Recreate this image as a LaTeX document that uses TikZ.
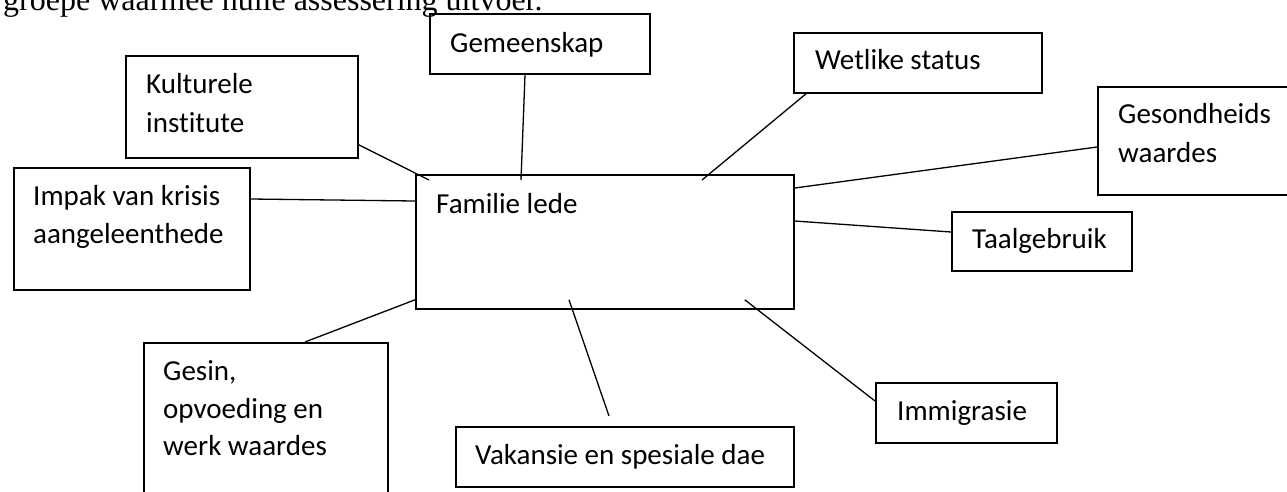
\documentclass[tikz,border=0pt]{standalone}
\usepackage{fontspec}
\setmainfont{Carlito}[Ligatures=NoCommon]
\newfontfamily\tnr{Liberation Serif}
\usetikzlibrary{calc}
\tikzset{
  box/.style={draw=black, line width=1.8pt, rectangle, inner sep=0pt, anchor=north west},
  lbl/.style={inner sep=0pt, anchor=base west, font=\fontsize{29}{38}\selectfont},
  conn/.style={draw=black, line width=1.3pt}
}
\begin{document}
\begin{tikzpicture}[x=1pt, y=-1pt]
\useasboundingbox (0,0) rectangle (1287,491);
\clip (0,0) rectangle (1287,491);
\fill[white] (0,0) rectangle (1287,491);
% cut-off line of text at top
\node[inner sep=0pt, anchor=base west, font=\tnr\fontsize{32}{38}\selectfont] (top) at (3,10) {groepe waarmee hulle assessering uitvoer.};
% boxes
\node[box, minimum width=378pt, minimum height=134pt] (fam) at (415,174) {};
\node[box, minimum width=220pt, minimum height=60pt] (gem) at (429,13) {};
\node[box, minimum width=232pt, minimum height=102pt] (kul) at (125,55) {};
\node[box, minimum width=236pt, minimum height=122pt] (imp) at (13,167) {};
\node[box, minimum width=248pt, minimum height=60pt] (wet) at (793,32) {};
\node[box, minimum width=210pt, minimum height=108pt] (ges) at (1097,86) {};
\node[box, minimum width=180pt, minimum height=59pt] (taal) at (951,211) {};
\node[box, minimum width=181pt, minimum height=60pt] (imm) at (875,382) {};
\node[box, minimum width=338pt, minimum height=60pt] (vak) at (455,426) {};
\node[box, minimum width=244pt, minimum height=170pt] (gesin) at (143,342) {};
% texts
\node[lbl] (tfam) at (436,213) {Familie lede};
\node[lbl] (tgem) at (450,52) {Gemeenskap};
\node[lbl] (tkul1) at (146,93) {Kulturele};
\node[lbl] (tkul2) at (146,132) {institute};
\node[lbl] (timp1) at (33,205) {Impak van krisis};
\node[lbl] (timp2) at (33,243) {aangeleenthede};
\node[lbl] (twet) at (815,69) {Wetlike status};
\node[lbl] (tges1) at (1118,123) {Gesondheids};
\node[lbl] (tges2) at (1118,162) {waardes};
\node[lbl] (ttaal) at (972,248) {Taalgebruik};
\node[lbl] (timm) at (897,420) {Immigrasie};
\node[lbl] (tvak) at (475,464) {Vakansie en spesiale dae};
\node[lbl] (tgesin1) at (163,380) {Gesin,};
\node[lbl] (tgesin2) at (163,418) {opvoeding en};
\node[lbl] (tgesin3) at (163,455) {werk waardes};
% connectors
\draw[conn] ($(kul.south east)+(0,-14)$) -- ($(fam.north west)+(14,6)$);
\draw[conn] ($(gem.south west)+(96,0)$) -- ($(fam.north west)+(106,6)$);
\draw[conn] ($(wet.south west)+(13,0)$) -- ($(fam.north west)+(287,6)$);
\draw[conn] ($(ges.north west)+(0,61)$) -- ($(fam.north east)+(0,14)$);
\draw[conn] ($(fam.north east)+(0,47)$) -- ($(taal.north west)+(0,21)$);
\draw[conn] ($(fam.south east)+(-50,-10)$) -- ($(imm.north west)+(0,19)$);
\draw[conn] ($(fam.south west)+(154,-10)$) -- ($(vak.north west)+(154,-10)$);
\draw[conn] ($(fam.south west)+(0,-10)$) -- ($(gesin.north west)+(162,0)$);
\draw[conn] ($(imp.north east)+(0,32)$) -- ($(fam.north west)+(0,27)$);
\end{tikzpicture}
\end{document}
